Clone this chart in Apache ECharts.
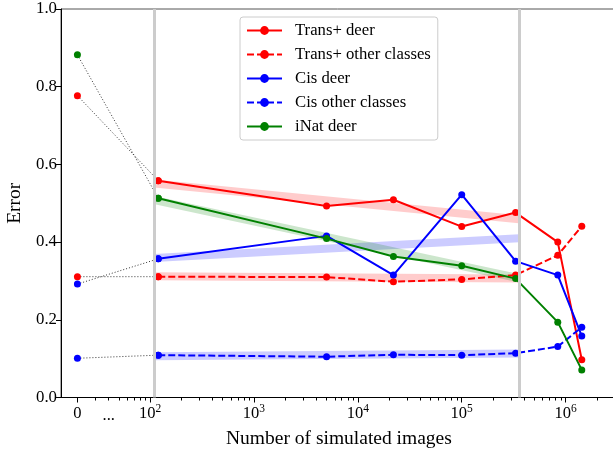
<!DOCTYPE html>
<html>
<head>
<meta charset="utf-8">
<script src="https://cdn.jsdelivr.net/npm/echarts@6/dist/echarts.min.js"></script>
<style>html,body{margin:0;padding:0;background:#fff}#c{width:613px;height:453px}</style>
</head>
<body>
<div id="c"></div>
<script>
// ---- data ----
const xValues    = [0, 120, 5000, 22000, 100000, 330000, 840000, 1430000];
const transDeer  = [0.777, 0.558, 0.493, 0.509, 0.440, 0.476, 0.400, 0.097];
const transOther = [0.311, 0.311, 0.310, 0.298, 0.304, 0.315, 0.366, 0.441];
const cisDeer    = [0.292, 0.357, 0.416, 0.315, 0.522, 0.351, 0.315, 0.158];
const cisOther   = [0.101, 0.109, 0.105, 0.110, 0.109, 0.114, 0.131, 0.181];
const inatDeer   = [0.882, 0.513, 0.409, 0.363, 0.339, 0.306, 0.194, 0.071];

const trendX          = [110, 356000];
const trendTransDeer  = [0.551, 0.459];
const trendTransOther = [0.312, 0.306];
const trendCisDeer    = [0.359, 0.410];
const trendCisOther   = [0.106, 0.113];
const trendInatDeer   = [0.508, 0.307];

const refLines = [110, 356000];

const zeroShownAt = 20;   // the "0" point is drawn where 20 would sit on the broken log axis
const xMinN = 13.9, xMaxN = 3550000;
const tickValues  = [0, 100, 1000, 10000, 100000, 1000000];
const labelValues = [0, 40, 100, 1000, 10000, 100000, 1000000];
const labelTexts  = ['0', '...', '10^2', '10^3', '10^4', '10^5', '10^6'];
const minorTicks  = [30,40,50,60,70,80,90,
  200,300,400,500,600,700,800,900,
  2000,3000,4000,5000,6000,7000,8000,9000,
  20000,30000,40000,50000,60000,70000,80000,90000,
  200000,300000,400000,500000,600000,700000,800000,900000,
  2000000,3000000];

const names = ['Trans+ deer', 'Trans+ other classes', 'Cis deer', 'Cis other classes', 'iNat deer'];
const values = [transDeer, transOther, cisDeer, cisOther, inatDeer];
const trends = [trendTransDeer, trendTransOther, trendCisDeer, trendCisOther, trendInatDeer];
const colors = ['#ff0000', '#ff0000', '#0000ff', '#0000ff', '#008000'];
const bandColors = ['rgba(255,0,0,0.2)', 'rgba(255,0,0,0.2)', 'rgba(0,0,255,0.2)', 'rgba(0,0,255,0.2)', 'rgba(0,128,0,0.2)'];
const dashed = [false, true, false, true, false];

// ---- helpers ----
function pos(n) { return n === 0 ? Math.log10(zeroShownAt) : Math.log10(n); }
const FONT = '"Liberation Serif", "DejaVu Serif", serif';
const xMin = Math.log10(xMinN), xMax = Math.log10(xMaxN);
const labelPos = labelValues.map(pos);

const series = [];
// vertical reference lines
series.push({
  type: 'line', data: [], z: 1, silent: true,
  markLine: {
    silent: true, symbol: 'none', animation: false,
    label: {show: false},
    lineStyle: {color: '#cccccc', width: 3, type: 'solid'},
    data: refLines.map(v => ({xAxis: pos(v)}))
  }
});
for (let i = 0; i < 5; i++) {
  // trend bands
  series.push({
    type: 'line', z: 2, silent: true, symbol: 'none',
    data: trendX.map((x, j) => [pos(x), trends[i][j]]),
    lineStyle: {color: bandColors[i], width: 8, cap: 'butt'}
  });
  // dotted connector from the zero point
  series.push({
    type: 'line', z: 3, silent: true,
    symbol: 'circle', symbolSize: 7,
    data: [0, 1].map(j => [pos(xValues[j]), values[i][j]]),
    itemStyle: {color: colors[i]},
    lineStyle: {color: '#333', width: 1, type: [1, 2]}
  });
}
for (let i = 0; i < 5; i++) {
  series.push({
    name: names[i], type: 'line', z: 4,
    symbol: 'circle', symbolSize: 7,
    data: xValues.slice(1).map((x, j) => [pos(x), values[i][j + 1]]),
    itemStyle: {color: colors[i]},
    lineStyle: {color: colors[i], width: 2, type: dashed[i] ? [7, 3] : 'solid'}
  });
}

const chart = echarts.init(document.getElementById('c'), null, {renderer: 'canvas'});
chart.setOption({
  animation: false,
  backgroundColor: '#fff',
  grid: {left: 61, top: 9, width: (xMax - xMin) * 103.9, height: 388.5,
         outerBoundsMode: 'none', containLabel: false,
         show: true, borderColor: '#555', borderWidth: 1, backgroundColor: 'transparent'},
  legend: {
    data: names, orient: 'vertical', left: 240, top: 17,
    itemWidth: 35, itemHeight: 11, itemGap: 7,
    padding: [5, 7, 5, 6],
    backgroundColor: '#fff', borderColor: '#cccccc', borderWidth: 1, borderRadius: 3,
    textStyle: {fontFamily: FONT, fontSize: 16.7, color: '#000', padding: [0, 0, 0, 8], lineHeight: 16.5}
  },
  xAxis: [{
    type: 'value', min: xMin, max: xMax,
    name: 'Number of simulated images', nameLocation: 'middle', nameGap: 31,
    nameTextStyle: {fontFamily: FONT, fontSize: 19.5, color: '#000', padding: [0, 6, 0, 0]},
    axisLine: {show: true, onZero: false, lineStyle: {color: '#000', width: 1}},
    axisTick: {show: true, length: 5, inside: false, customValues: tickValues.map(pos), lineStyle: {color: '#000'}},
    axisLabel: {
      show: true, margin: 5, customValues: labelPos,
      formatter: function (v) {
        let k = labelPos.findIndex(p => Math.abs(p - v) < 1e-6);
        if (k < 0) return '';
        const t = labelTexts[k];
        if (t.indexOf('^') >= 0) {
          const p = t.split('^');
          return '{b|' + p[0] + '}{s|' + p[1] + '}';
        }
        if (t === '...') return '{d|' + t + '}';
        return '{b|' + t + '}';
      },
      rich: {
        b: {fontFamily: FONT, fontSize: 16.5, color: '#000', lineHeight: 20, verticalAlign: 'bottom'},
        s: {fontFamily: FONT, fontSize: 11.5, color: '#000', lineHeight: 20, verticalAlign: 'top', padding: [0, 0, 9, 0]},
        d: {fontFamily: FONT, fontSize: 16.5, color: '#000', lineHeight: 20, padding: [6, 0, 0, 0]}
      }
    },
    splitLine: {show: false}
  }, {
    type: 'value', min: xMin, max: xMax, position: 'bottom', gridIndex: 0,
    axisLine: {show: false},
    axisTick: {show: true, length: 3, customValues: minorTicks.map(pos), lineStyle: {color: '#000'}},
    axisLabel: {show: false},
    splitLine: {show: false}
  }],
  yAxis: {
    type: 'value', min: 0, max: 1, interval: 0.2,
    name: 'Error', nameLocation: 'middle', nameGap: 35,
    nameTextStyle: {fontFamily: FONT, fontSize: 19.5, color: '#000'},
    axisLine: {show: true, lineStyle: {color: '#000', width: 1}},
    axisTick: {show: true, length: 5, lineStyle: {color: '#000'}},
    axisLabel: {fontFamily: FONT, fontSize: 16.8, color: '#000', margin: 4,
      formatter: v => v.toFixed(1)},
    splitLine: {show: false}
  },
  series: series
});
</script>
</body>
</html>
